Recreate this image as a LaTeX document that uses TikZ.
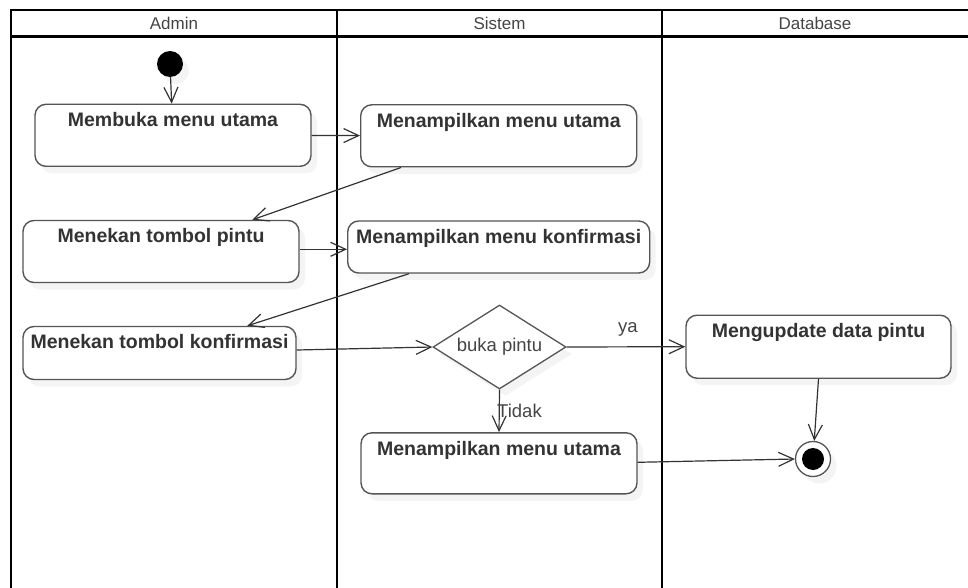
\documentclass[tikz,border=0pt]{standalone}
\usepackage{fontspec}
\setmainfont{Liberation Sans}
\usetikzlibrary{arrows.meta,shapes.geometric,shadows,calc}

\definecolor{edge}{HTML}{555555}
\definecolor{ink}{HTML}{333333}
\definecolor{headink}{HTML}{444444}

\tikzset{
  lane/.style={draw=black, line width=2.4pt},
  softshadow/.style={drop shadow={opacity=0.09, shadow xshift=6pt, shadow yshift=-7pt}},
  act/.style={draw=edge, line width=1.4pt, rounded corners=11pt, fill=white,
              softshadow, inner sep=0pt, minimum height=62pt},
  acttext/.style={anchor=base, yshift=-23pt, inner sep=0pt, text=ink,
                  font=\fontsize{19.5}{22}\selectfont\bfseries},
  headtext/.style={text=headink, font=\fontsize{17}{20}\selectfont},
  guard/.style={text=headink, inner sep=0pt, font=\fontsize{18.5}{21}\selectfont},
  flow/.style={draw=ink, line width=1.2pt,
               -{Straight Barb[length=15pt, width=14pt]}},
}

\begin{document}
\begin{tikzpicture}[x=1pt, y=-1pt]
  \useasboundingbox (0,0) rectangle (968,588);

  % swimlane frame and header
  \draw[lane] (11,600) -- (11,10) -- (980,10);
  \draw[lane] (11,36.7) -- (980,36.7);
  \draw[lane] (337,10) -- (337,600);
  \draw[lane] (662,10) -- (662,600);
  \node[headtext] (hAdmin) at (174,23.5) {Admin};
  \node[headtext] (hSistem) at (499.5,23.5) {Sistem};
  \node[headtext] (hDb) at (815,23.5) {Database};

  % initial and final states
  \node[circle, fill=black, minimum size=26pt, inner sep=0pt, softshadow] (start) at (170,64) {};
  \node[circle, draw=edge, fill=white, line width=1.3pt, minimum size=35pt, inner sep=0pt, softshadow] (finish) at (813,459) {};
  \node[circle, fill=black, minimum size=22pt, inner sep=0pt] (finishDot) at (finish) {};

  % actions
  \node[act, minimum width=276pt, label={[acttext]north:Membuka menu utama}] (b1) at (173,135.3) {};
  \node[act, minimum width=276pt, label={[acttext]north:Menampilkan menu utama}] (b2) at (498.7,135.8) {};
  \node[act, minimum width=276pt, label={[acttext]north:Menekan tombol pintu}] (b3) at (161,251.5) {};
  \node[act, minimum width=302pt, minimum height=52pt, label={[acttext]north:Menampilkan menu konfirmasi}] (b4) at (498.7,247) {};
  \node[act, minimum width=273pt, minimum height=53pt, label={[acttext]north:Menekan tombol konfirmasi}] (b5) at (159.5,353) {};
  \node[act, minimum width=265pt, minimum height=63pt, label={[acttext]north:Mengupdate data pintu}] (b6) at (818.5,346.7) {};
  \node[act, minimum width=276pt, minimum height=61pt, label={[acttext]north:Menampilkan menu utama}] (b7) at (499,463.3) {};

  % decision
  \node[diamond, draw=edge, line width=1.3pt, fill=white, aspect=1.58,
        minimum width=133pt, minimum height=84pt, inner sep=0pt, softshadow,
        text=headink, font=\fontsize{18.5}{21}\selectfont] (dia) at (499.5,347) {buka pintu};

  % control flow
  \draw[flow] (start) -- (b1);
  \draw[flow] (b1) -- (b2);
  \draw[flow] ($(b2.south west)+(41,0)$) -- ($(b3.north west)+(230,0)$);
  \draw[flow] ($(b3.east)+(0,-2.2)$) -- ($(b4.west)+(0,2.3)$);
  \draw[flow] ($(b4.south west)+(62,0)$) -- ($(b5.north west)+(225,0)$);
  \draw[flow] ($(b5.east)+(0,-3)$) -- (dia.west);
  \draw[flow] (dia.east) -- (b6.west);
  \draw[flow] (dia.south) -- (b7.north);
  \draw[flow] (b6.south) -- (finish);
  \draw[flow] ($(b7.east)+(0,-1)$) -- (finish.west);

  % guards
  \node[guard] (gYa) at (628,329) {ya};
  \node[guard, anchor=west] (gTidak) at (497,411) {Tidak};
\end{tikzpicture}
\end{document}
